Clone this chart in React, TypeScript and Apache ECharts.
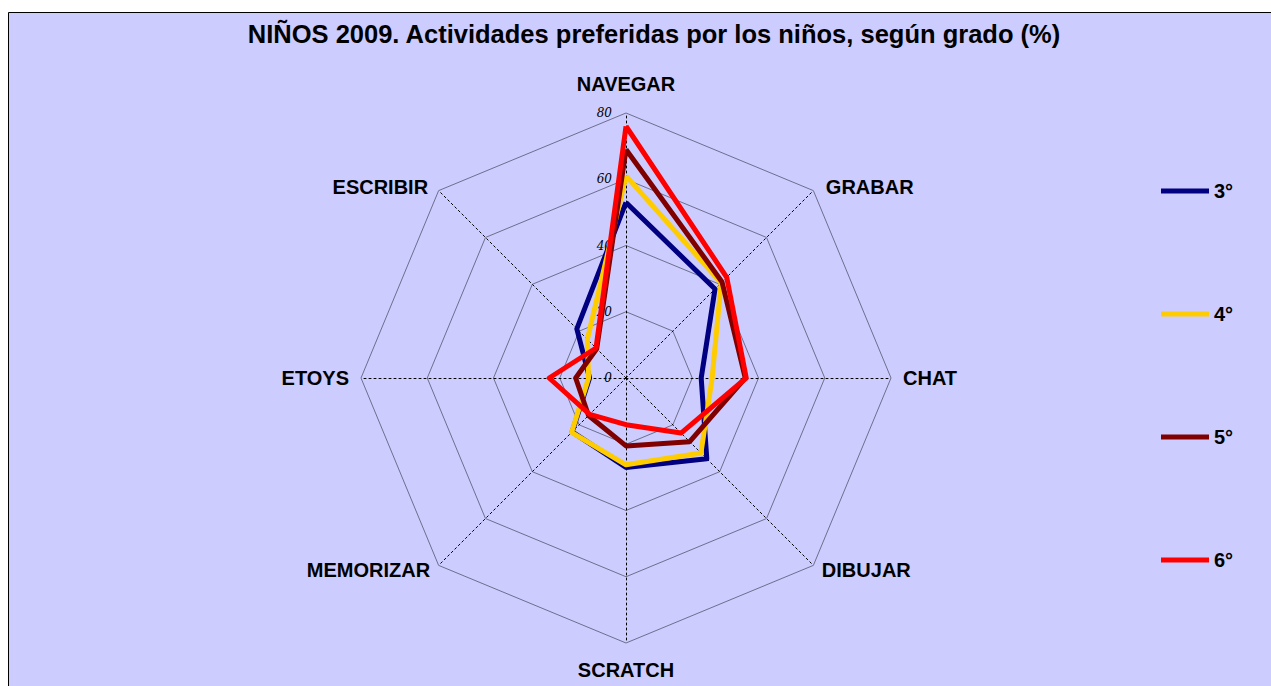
import React, { useEffect, useRef } from "react";
import * as echarts from "echarts";

// Indicator order as ECharts lays them out (counter-clockwise from top)
const categories = ["NAVEGAR", "ESCRIBIR", "ETOYS", "MEMORIZAR", "SCRATCH", "DIBUJAR", "CHAT", "GRABAR"];
const grade3 = [53, 21, 11, 23, 27, 34.5, 22.7, 38];
const grade4 = [61, 16.5, 11.3, 23.2, 26.2, 32, 26, 40.6];
const grade5 = [69, 12.5, 15.2, 16, 20.5, 27.2, 36, 41];
const grade6 = [76, 12.8, 23.2, 15.5, 14.1, 23.5, 36.3, 43];
const seriesNames = ["3°", "4°", "5°", "6°"];
const seriesColors = ["#000080", "#FFCC00", "#800000", "#FF0000"];
const axisMax = 80;

const nameStyle: Record<string, any> = {
  NAVEGAR: { padding: [0, 0, 7, 0] },
  SCRATCH: { padding: [5, 0, 0, 0] },
  GRABAR: { verticalAlign: "top", lineHeight: 9, padding: [0, 0, 0, 4] },
  ESCRIBIR: { verticalAlign: "top", lineHeight: 9, padding: [0, 2, 0, 0] },
  DIBUJAR: { verticalAlign: "bottom", lineHeight: 7 },
  MEMORIZAR: { verticalAlign: "bottom", lineHeight: 7 },
  CHAT: {},
  ETOYS: {},
};

export default function App() {
  const ref = useRef<HTMLDivElement>(null);
  useEffect(() => {
    const chart = echarts.init(ref.current!, undefined, { renderer: "svg" });
    const values = [grade3, grade4, grade5, grade6];
    chart.setOption({
      animation: false,
      backgroundColor: "#ffffff",
      graphic: [
        {
          type: "rect",
          z: -10,
          shape: { x: 8.5, y: 12.5, width: 1300, height: 700 },
          style: { fill: "#CCCCFF", stroke: "#000000", lineWidth: 1 },
        },
      ],
      title: {
        text: "NIÑOS 2009. Actividades preferidas por los niños, según grado (%)",
        left: 649,
        top: 16,
        textAlign: "center",
        textStyle: { fontFamily: "Liberation Sans, Arial", fontWeight: "bold", fontSize: 25.5, color: "#000" },
      },
      legend: {
        orient: "vertical",
        left: 1156,
        top: 176,
        itemWidth: 48,
        itemHeight: 5,
        itemGap: 103,
        icon: "rect",
        data: seriesNames,
        textStyle: { fontFamily: "Liberation Sans, Arial", fontWeight: "bold", fontSize: 20, lineHeight: 20, color: "#000" },
      },
      radar: {
        center: [626, 378],
        radius: 265,
        shape: "polygon",
        splitNumber: 4,
        nameGap: 12,
        axisName: { fontFamily: "Liberation Sans, Arial", fontWeight: "bold", fontSize: 20, color: "#000" },
        indicator: categories.map((c, i) => ({
          name: c,
          min: 0,
          max: axisMax,
          axisLabel: { show: i === 0 },
          nameTextStyle: nameStyle[c],
        })),
        axisLabel: {
          show: true,
          fontFamily: "DejaVu Serif",
          fontStyle: "italic",
          fontSize: 12,
          color: "#000",
          margin: 14,
        },
        axisLine: { lineStyle: { color: "#000", type: [2, 3], width: 1 } },
        splitLine: { lineStyle: { color: "#6e6e8c", width: 1 } },
        splitArea: { show: false },
      },
      series: [
        {
          type: "radar",
          symbol: "none",
          data: values.map((v, i) => ({
            name: seriesNames[i],
            value: v,
            lineStyle: { color: seriesColors[i], width: 5 },
            itemStyle: { color: seriesColors[i] },
            z: i,
          })),
        },
      ],
    });
    return () => chart.dispose();
  }, []);
  return <div ref={ref} style={{ position: "absolute", left: 0, top: 0, width: 1271, height: 686 }} />;
}
